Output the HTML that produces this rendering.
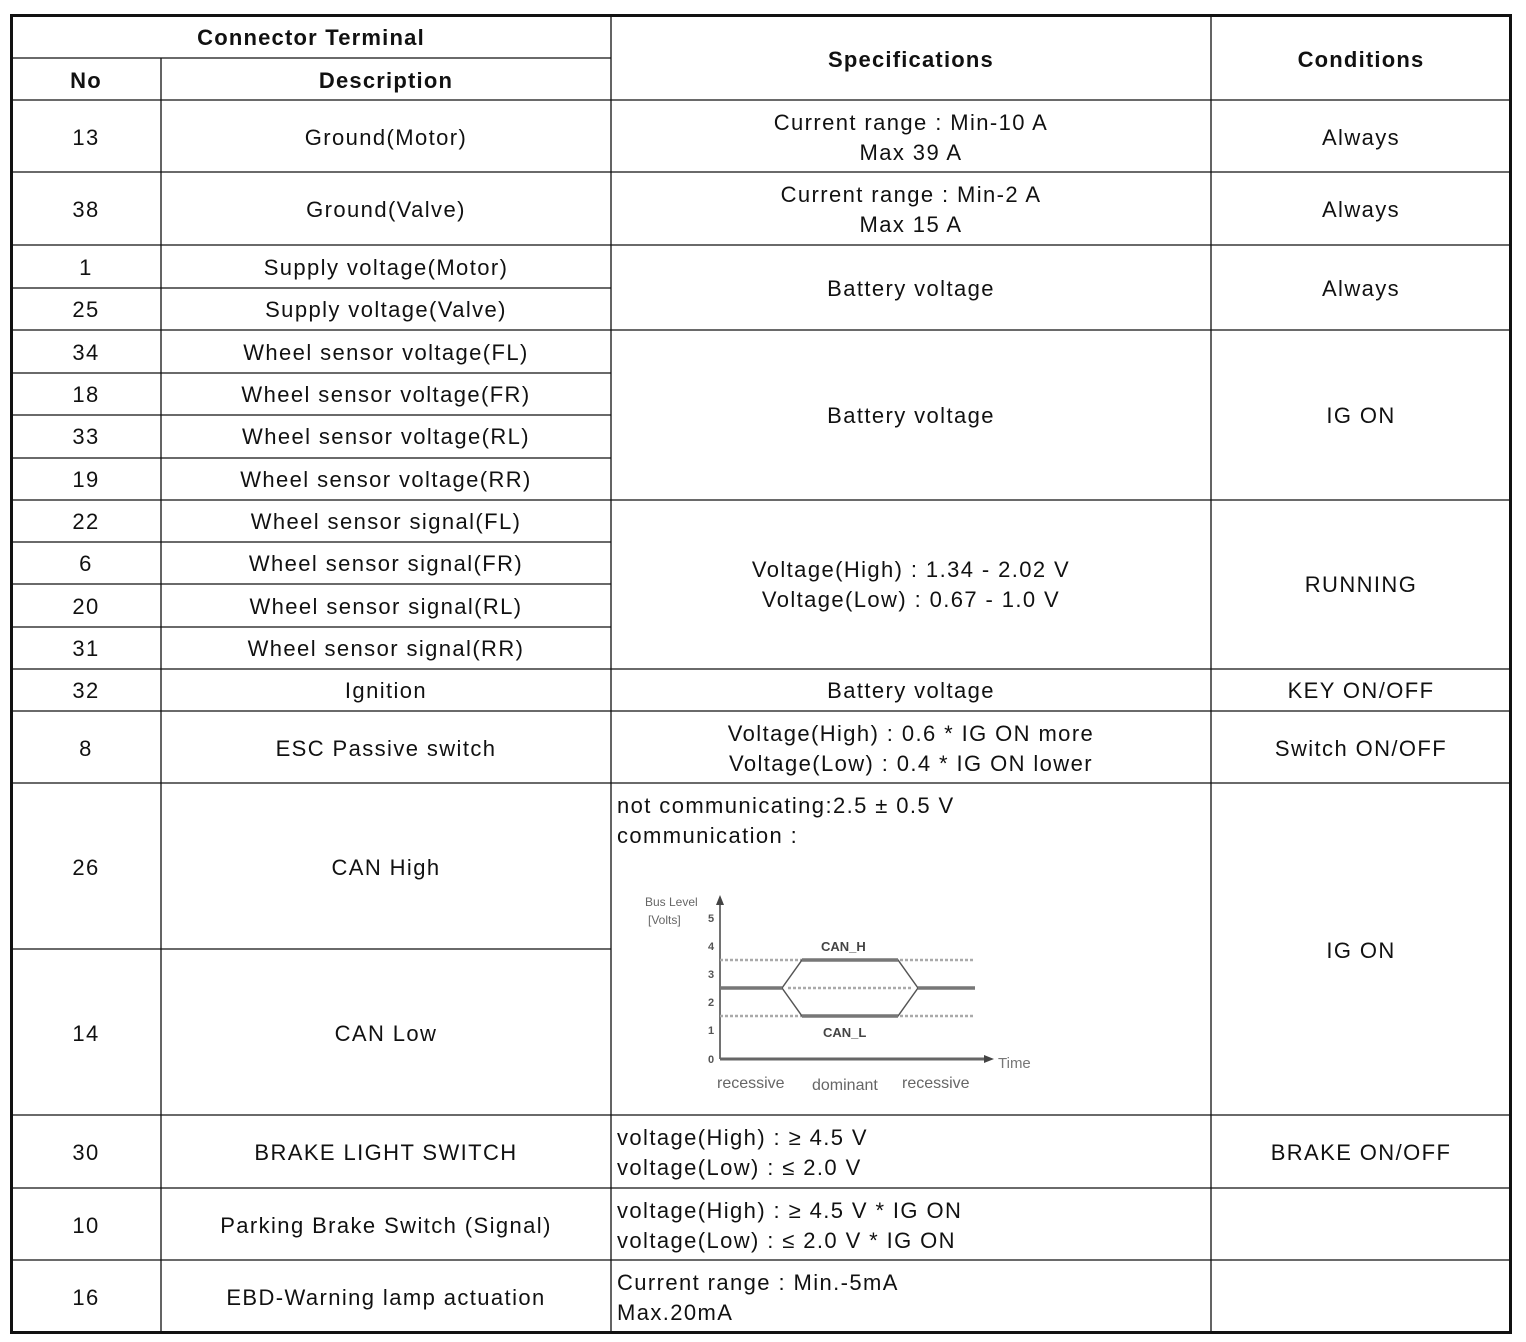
<!DOCTYPE html>
<html><head><meta charset="utf-8"><style>
html,body{margin:0;padding:0;background:#fff}
svg{display:block}
text{font-family:"Liberation Sans",Arial,sans-serif;font-size:22px;fill:#111;letter-spacing:1.4px}
.b{font-weight:bold;letter-spacing:1.2px}
.s{letter-spacing:0}
</style></head><body>
<svg width="1526" height="1342" viewBox="0 0 1526 1342" xmlns="http://www.w3.org/2000/svg">
<g stroke="#111" stroke-width="1.3" fill="none">
<line x1="161" y1="58" x2="161" y2="1333"/>
<line x1="611" y1="14" x2="611" y2="1333"/>
<line x1="1211" y1="14" x2="1211" y2="1333"/>
<line x1="10" y1="58" x2="611" y2="58"/>
<line x1="10" y1="100" x2="1511" y2="100"/>
<line x1="10" y1="172" x2="1511" y2="172"/>
<line x1="10" y1="245" x2="1511" y2="245"/>
<line x1="10" y1="288" x2="611" y2="288"/>
<line x1="10" y1="330" x2="1511" y2="330"/>
<line x1="10" y1="373" x2="611" y2="373"/>
<line x1="10" y1="415" x2="611" y2="415"/>
<line x1="10" y1="458" x2="611" y2="458"/>
<line x1="10" y1="500" x2="1511" y2="500"/>
<line x1="10" y1="542" x2="611" y2="542"/>
<line x1="10" y1="584" x2="611" y2="584"/>
<line x1="10" y1="627" x2="611" y2="627"/>
<line x1="10" y1="669" x2="1511" y2="669"/>
<line x1="10" y1="711" x2="1511" y2="711"/>
<line x1="10" y1="783" x2="1511" y2="783"/>
<line x1="10" y1="949" x2="611" y2="949"/>
<line x1="10" y1="1115" x2="1511" y2="1115"/>
<line x1="10" y1="1188" x2="1511" y2="1188"/>
<line x1="10" y1="1260" x2="1511" y2="1260"/>
<rect x="11.5" y="15.5" width="1499" height="1317" stroke-width="3"/>
</g>
<g text-anchor="middle">
<text class="b" x="311" y="45">Connector Terminal</text>
<text class="b" x="86" y="88">No</text>
<text class="b" x="386" y="88">Description</text>
<text class="b" x="911" y="67">Specifications</text>
<text class="b" x="1361" y="67">Conditions</text>

<text x="86" y="145">13</text><text x="386" y="145">Ground(Motor)</text>
<text x="911" y="130">Current range : Min-10 A</text><text x="911" y="160">Max 39 A</text><text x="1361" y="145">Always</text>
<text x="86" y="217">38</text><text x="386" y="217">Ground(Valve)</text>
<text x="911" y="202">Current range : Min-2 A</text><text x="911" y="232">Max 15 A</text><text x="1361" y="217">Always</text>
<text x="86" y="275">1</text><text x="386" y="275">Supply voltage(Motor)</text>
<text x="86" y="317">25</text><text x="386" y="317">Supply voltage(Valve)</text>
<text x="911" y="296">Battery voltage</text><text x="1361" y="296">Always</text>
<text x="86" y="360">34</text><text x="386" y="360">Wheel sensor voltage(FL)</text>
<text x="86" y="402">18</text><text x="386" y="402">Wheel sensor voltage(FR)</text>
<text x="86" y="444">33</text><text x="386" y="444">Wheel sensor voltage(RL)</text>
<text x="86" y="487">19</text><text x="386" y="487">Wheel sensor voltage(RR)</text>
<text x="911" y="423">Battery voltage</text><text x="1361" y="423">IG ON</text>
<text x="86" y="529">22</text><text x="386" y="529">Wheel sensor signal(FL)</text>
<text x="86" y="571">6</text><text x="386" y="571">Wheel sensor signal(FR)</text>
<text x="86" y="614">20</text><text x="386" y="614">Wheel sensor signal(RL)</text>
<text x="86" y="656">31</text><text x="386" y="656">Wheel sensor signal(RR)</text>
<text x="911" y="577">Voltage(High) : 1.34 - 2.02 V</text><text x="911" y="607">Voltage(Low) : 0.67 - 1.0 V</text><text x="1361" y="592">RUNNING</text>
<text x="86" y="698">32</text><text x="386" y="698">Ignition</text><text x="911" y="698">Battery voltage</text><text x="1361" y="698">KEY ON/OFF</text>
<text x="86" y="756">8</text><text x="386" y="756">ESC Passive switch</text>
<text x="911" y="741">Voltage(High) : 0.6 * IG ON more</text><text x="911" y="771">Voltage(Low) : 0.4 * IG ON lower</text><text x="1361" y="756">Switch ON/OFF</text>
<text x="86" y="875">26</text><text x="386" y="875">CAN High</text>
<text x="86" y="1041">14</text><text x="386" y="1041">CAN Low</text>
<text x="1361" y="958">IG ON</text>
<text x="86" y="1160">30</text><text x="386" y="1160">BRAKE LIGHT SWITCH</text><text x="1361" y="1160">BRAKE ON/OFF</text>
<text x="86" y="1233">10</text><text x="386" y="1233">Parking Brake Switch (Signal)</text>
<text x="86" y="1305">16</text><text x="386" y="1305">EBD-Warning lamp actuation</text>
</g>
<g>
<text x="617" y="813">not communicating:2.5 ± 0.5 V</text>
<text x="617" y="843">communication :</text>
<text x="617" y="1145">voltage(High) : ≥ 4.5 V</text>
<text x="617" y="1175">voltage(Low)  : ≤ 2.0 V</text>
<text x="617" y="1218">voltage(High) : ≥ 4.5 V * IG ON</text>
<text x="617" y="1248">voltage(Low)  : ≤ 2.0 V * IG ON</text>
<text x="617" y="1290">Current range : Min.-5mA</text>
<text x="617" y="1320">Max.20mA</text>
</g>
<g>
<line x1="720" y1="1059" x2="720" y2="900" stroke="#444" stroke-width="1.5"/>
<polygon points="720,895 716,905 724,905" fill="#444"/>
<line x1="720" y1="1059" x2="988" y2="1059" stroke="#666" stroke-width="3"/>
<polygon points="994,1059 984,1055 984,1063" fill="#444"/>
<g stroke="#aaa" stroke-width="2.5" stroke-dasharray="3,2">
<line x1="720" y1="960" x2="975" y2="960"/>
<line x1="720" y1="1016" x2="975" y2="1016"/>
<line x1="788" y1="988" x2="912" y2="988"/>
</g>
<g stroke="#555" stroke-width="1.5" fill="none">
<polyline points="782,988 802,960 898,960 918,988"/>
<polyline points="782,988 802,1016 898,1016 918,988"/>
</g>
<g stroke="#777" stroke-width="3.5">
<line x1="720" y1="988" x2="782" y2="988"/><line x1="918" y1="988" x2="975" y2="988"/>
<line x1="802" y1="960" x2="898" y2="960"/><line x1="802" y1="1016" x2="898" y2="1016"/>
</g>
<g>
<text x="645" y="906" class="s" style="font-size:12px;fill:#666">Bus Level</text>
<text x="648" y="924" class="s" style="font-size:12px;fill:#666">[Volts]</text>
<text x="708" y="922" class="b s" style="font-size:11px;fill:#555">5</text>
<text x="708" y="950" class="b s" style="font-size:11px;fill:#555">4</text>
<text x="708" y="978" class="b s" style="font-size:11px;fill:#555">3</text>
<text x="708" y="1006" class="b s" style="font-size:11px;fill:#555">2</text>
<text x="708" y="1034" class="b s" style="font-size:11px;fill:#555">1</text>
<text x="708" y="1063" class="b s" style="font-size:11px;fill:#555">0</text>
<text x="821" y="951" class="b s" style="font-size:13px;fill:#444">CAN_H</text>
<text x="823" y="1037" class="b s" style="font-size:13px;fill:#444">CAN_L</text>
<text x="998" y="1068" class="s" style="font-size:15px;fill:#777">Time</text>
<text x="717" y="1088" class="s" style="font-size:16px;fill:#666">recessive</text>
<text x="812" y="1090" class="s" style="font-size:16px;fill:#666">dominant</text>
<text x="902" y="1088" class="s" style="font-size:16px;fill:#666">recessive</text>
</g>
</g>
</svg>
</body></html>
